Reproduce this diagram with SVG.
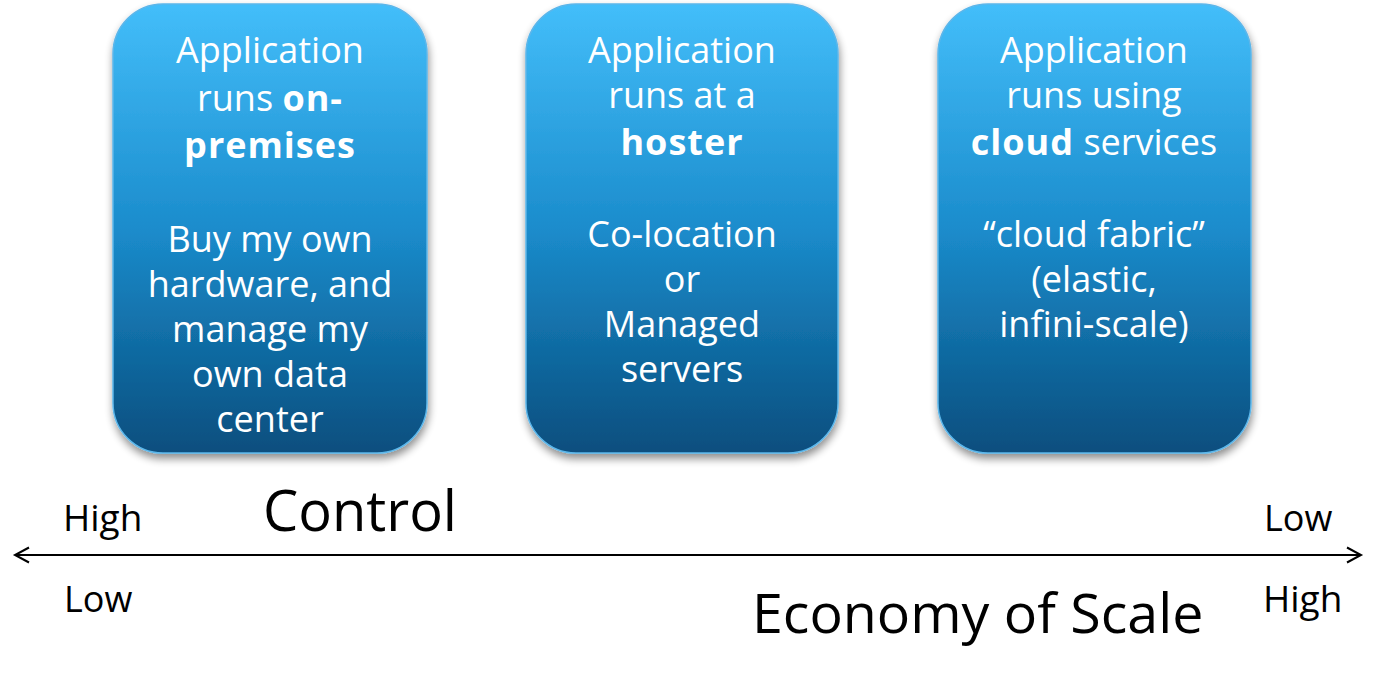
<svg xmlns="http://www.w3.org/2000/svg" width="1376" height="679" viewBox="0 0 1376 679">
<defs>
<linearGradient id="g" x1="0" y1="0" x2="0" y2="1">
<stop offset="0" stop-color="#43befa"/>
<stop offset="0.5" stop-color="#1b8ccc"/>
<stop offset="1" stop-color="#074e7e"/>
</linearGradient>
<filter id="sh" x="-10%" y="-10%" width="120%" height="120%">
<feGaussianBlur in="SourceAlpha" stdDeviation="4"/>
<feOffset dx="1" dy="5" result="b"/>
<feComponentTransfer><feFuncA type="linear" slope="0.45"/></feComponentTransfer>
<feMerge><feMergeNode/><feMergeNode in="SourceGraphic"/></feMerge>
</filter>
<marker id="ah" markerUnits="userSpaceOnUse" markerWidth="18" markerHeight="20" viewBox="0 0 18 20" refX="15" refY="10" orient="auto-start-reverse">
<path d="M1,2.5 L15,10 L1,17.5" fill="none" stroke="#000" stroke-width="2"/>
</marker>
</defs>
<style>
.box{fill:url(#g);stroke:#5cb6ea;stroke-width:1.5;filter:url(#sh)}
.t{font-family:"Open Sans","Noto Sans",sans-serif;font-size:36px;fill:#fff;text-anchor:middle}
.b{font-weight:bold;letter-spacing:1px}
.l{font-family:"Open Sans","Noto Sans",sans-serif;fill:#000}
</style>
<g id="node-onprem">
<rect class="box" x="113" y="4" width="314" height="449" rx="50" ry="50"/>
<text class="t" x="270" y="63">Application</text>
<text class="t" x="270" y="111">runs <tspan class="b">on-</tspan></text>
<text class="t b" x="270" y="158">premises</text>
<text class="t" x="270" y="252">Buy my own</text>
<text class="t" x="270" y="297">hardware, and</text>
<text class="t" x="270" y="342">manage my</text>
<text class="t" x="270" y="387">own data</text>
<text class="t" x="270" y="432">center</text>
</g>
<g id="node-hoster">
<rect class="box" x="526" y="4" width="312" height="449" rx="50" ry="50"/>
<text class="t" x="682" y="63">Application</text>
<text class="t" x="682" y="108">runs at a</text>
<text class="t b" x="682" y="155">hoster</text>
<text class="t" x="682" y="247">Co-location</text>
<text class="t" x="682" y="292">or</text>
<text class="t" x="682" y="337">Managed</text>
<text class="t" x="682" y="382">servers</text>
</g>
<g id="node-cloud">
<rect class="box" x="938" y="4" width="313" height="449" rx="50" ry="50"/>
<text class="t" x="1094" y="63">Application</text>
<text class="t" x="1094" y="108">runs using</text>
<text class="t" x="1094" y="155"><tspan class="b">cloud</tspan> services</text>
<text class="t" x="1094" y="247">“cloud fabric”</text>
<text class="t" x="1094" y="292">(elastic,</text>
<text class="t" x="1094" y="337">infini-scale)</text>
</g>
<g id="connectors">
<line x1="15" y1="555" x2="1361" y2="555" stroke="#000" stroke-width="2" marker-start="url(#ah)" marker-end="url(#ah)"/>
</g>
<g id="labels">
<text class="l" x="63" y="531" font-size="37">High</text>
<text class="l" x="263" y="531" font-size="56">Control</text>
<text class="l" x="64" y="612" font-size="36">Low</text>
<text class="l" x="1264" y="531" font-size="36">Low</text>
<text class="l" x="1263" y="612" font-size="37">High</text>
<text class="l" x="752" y="633" font-size="55.5">Economy of Scale</text>
</g>
</svg>
